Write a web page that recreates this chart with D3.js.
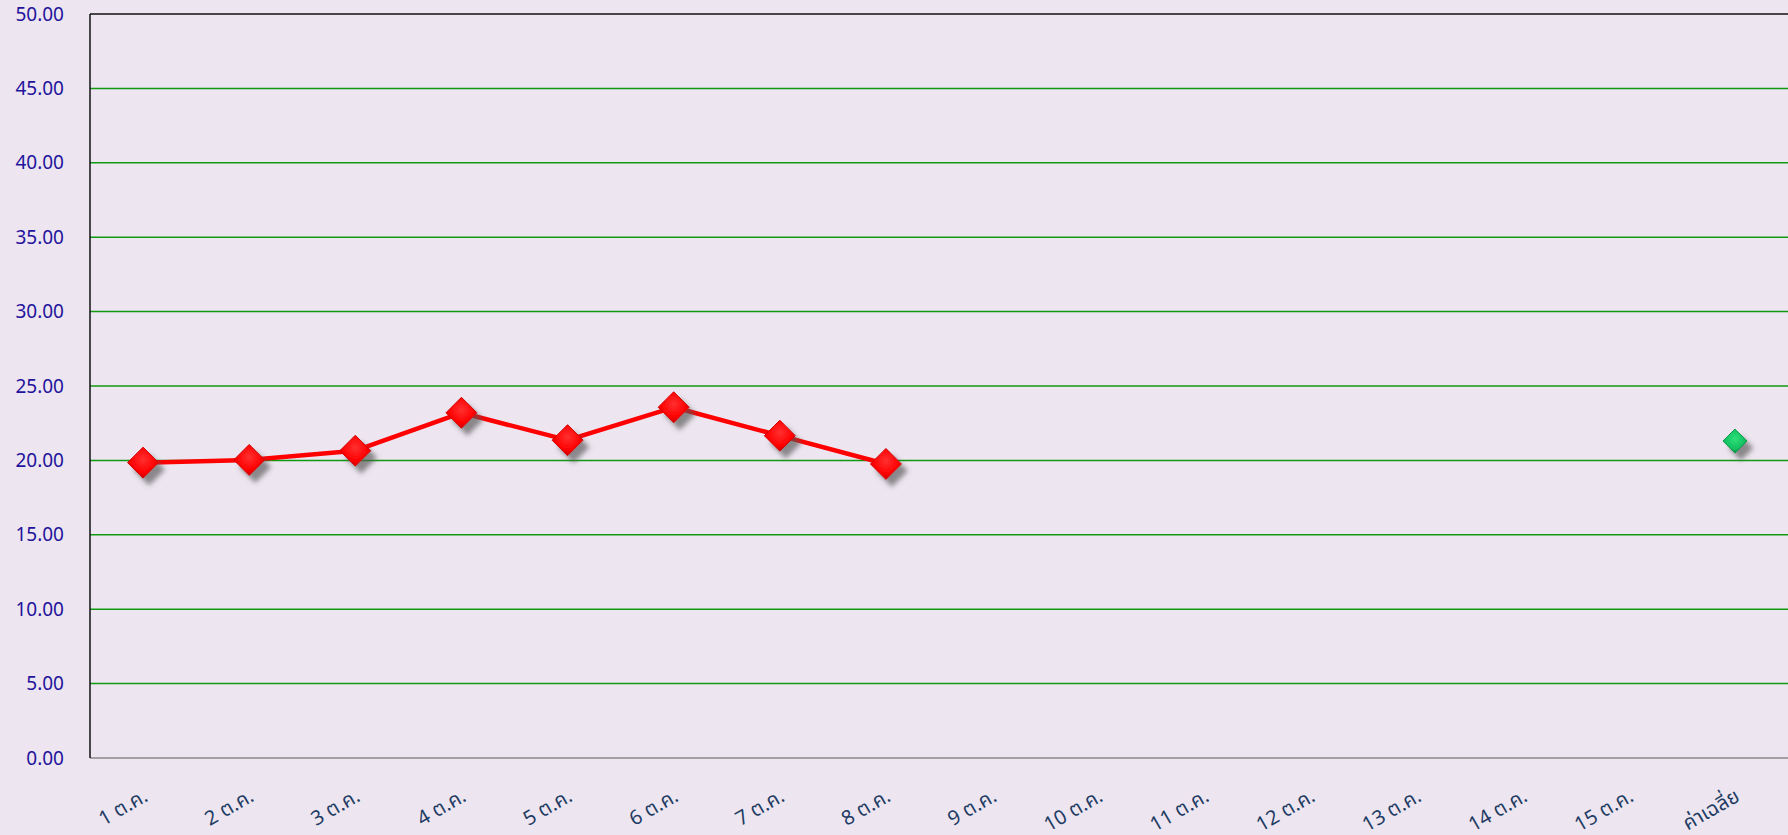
<!DOCTYPE html>
<html lang="en">
<head>
<meta charset="UTF-8">
<title>Chart</title>
<script src="https://d3js.org/d3.v7.min.js"></script>
<style>
  html, body { margin: 0; padding: 0; background: #ede6f0; overflow: hidden; }
  svg { display: block; }
  .ylab { font-family: "Noto Sans", "DejaVu Sans", sans-serif; font-size: 19px; fill: #23139c; }
  .xlab { font-family: "Noto Sans Thai", "Noto Sans", "DejaVu Sans", sans-serif; font-size: 20px; fill: #1f3c64; }
</style>
</head>
<body>
<div id="chart"></div>
<script>
const width = 1788, height = 835;
const margin = { top: 14, right: 0, bottom: 77, left: 90 };

// categories on x axis
const categories = ["1 ต.ค.", "2 ต.ค.", "3 ต.ค.", "4 ต.ค.", "5 ต.ค.", "6 ต.ค.", "7 ต.ค.", "8 ต.ค.",
  "9 ต.ค.", "10 ต.ค.", "11 ต.ค.", "12 ต.ค.", "13 ต.ค.", "14 ต.ค.", "15 ต.ค.", "ค่าเฉลี่ย"];
// daily values (only first 8 days have data)
const dailyValues = [19.85, 20.03, 20.65, 23.2, 21.36, 23.57, 21.66, 19.76];
// average point
const averageValue = [21.3];
const yTicks = [0, 5, 10, 15, 20, 25, 30, 35, 40, 45, 50];

const svg = d3.select("#chart").append("svg")
  .attr("width", width)
  .attr("height", height);

const defs = svg.append("defs");
const shadow = defs.append("filter").attr("id", "shadow")
  .attr("x", "-50%").attr("y", "-50%").attr("width", "200%").attr("height", "200%");
shadow.append("feDropShadow")
  .attr("dx", 6).attr("dy", 7).attr("stdDeviation", 2.5)
  .attr("flood-color", "#555").attr("flood-opacity", 0.65);

const redGrad = defs.append("radialGradient").attr("id", "redGrad")
  .attr("cx", "50%").attr("cy", "40%").attr("r", "60%");
redGrad.append("stop").attr("offset", "0%").attr("stop-color", "#ff3030");
redGrad.append("stop").attr("offset", "70%").attr("stop-color", "#ff0000");
redGrad.append("stop").attr("offset", "100%").attr("stop-color", "#c80000");

const greenGrad = defs.append("radialGradient").attr("id", "greenGrad")
  .attr("cx", "50%").attr("cy", "40%").attr("r", "60%");
greenGrad.append("stop").attr("offset", "0%").attr("stop-color", "#2ee07a");
greenGrad.append("stop").attr("offset", "70%").attr("stop-color", "#12c060");
greenGrad.append("stop").attr("offset", "100%").attr("stop-color", "#088a40");

const x = d3.scaleBand()
  .domain(categories)
  .range([margin.left, width - margin.right]);

const y = d3.scaleLinear()
  .domain([0, 50])
  .range([height - margin.bottom, margin.top]);

// gridlines
svg.append("g")
  .selectAll("line")
  .data(yTicks.filter(d => d > 0 && d < 50))
  .enter().append("line")
  .attr("x1", margin.left)
  .attr("x2", width - margin.right)
  .attr("y1", d => y(d))
  .attr("y2", d => y(d))
  .attr("stroke", "#119911")
  .attr("stroke-width", 1.5);

// top border
svg.append("line")
  .attr("x1", margin.left).attr("x2", width)
  .attr("y1", y(50)).attr("y2", y(50))
  .attr("stroke", "#111").attr("stroke-width", 1.5);

// bottom axis line
svg.append("line")
  .attr("x1", margin.left).attr("x2", width)
  .attr("y1", y(0)).attr("y2", y(0))
  .attr("stroke", "#888").attr("stroke-width", 1.5);

// left axis line
svg.append("line")
  .attr("x1", margin.left).attr("x2", margin.left)
  .attr("y1", y(50)).attr("y2", y(0))
  .attr("stroke", "#111").attr("stroke-width", 1.5);

// y labels
svg.append("g")
  .selectAll("text")
  .data(yTicks)
  .enter().append("text")
  .attr("class", "ylab")
  .attr("x", 64)
  .attr("y", d => y(d))
  .attr("dy", "0.35em")
  .attr("text-anchor", "end")
  .text(d => d.toFixed(2));

// x labels
svg.append("g")
  .selectAll("text")
  .data(categories)
  .enter().append("text")
  .attr("class", "xlab")
  .attr("text-anchor", "end")
  .attr("transform", d => `translate(${x(d) + x.bandwidth() / 2 + 6},${y(0) + 42}) rotate(-30)`)
  .text(d => d);

const cx = (d, i) => x(categories[i]) + x.bandwidth() / 2;

// line
const line = d3.line()
  .x((d, i) => cx(d, i))
  .y(d => y(d));

svg.append("path")
  .datum(dailyValues)
  .attr("fill", "none")
  .attr("stroke", "#ff0000")
  .attr("stroke-width", 4.5)
  .attr("stroke-linejoin", "round")
  .attr("d", line);

const diamond = r => `M0,${-r}L${r},0L0,${r}L${-r},0Z`;

svg.append("g")
  .selectAll("path")
  .data(dailyValues)
  .enter().append("path")
  .attr("d", diamond(15.5))
  .attr("transform", (d, i) => `translate(${cx(d, i)},${y(d)})`)
  .attr("fill", "url(#redGrad)")
  .attr("stroke", "#d00000")
  .attr("stroke-width", 1)
  .attr("filter", "url(#shadow)");

svg.append("g")
  .selectAll("path")
  .data(averageValue)
  .enter().append("path")
  .attr("d", diamond(12))
  .attr("transform", d => `translate(${x(categories[categories.length - 1]) + x.bandwidth() / 2},${y(d)})`)
  .attr("fill", "url(#greenGrad)")
  .attr("stroke", "#0a9a4a")
  .attr("stroke-width", 1)
  .attr("filter", "url(#shadow)");
</script>
</body>
</html>
